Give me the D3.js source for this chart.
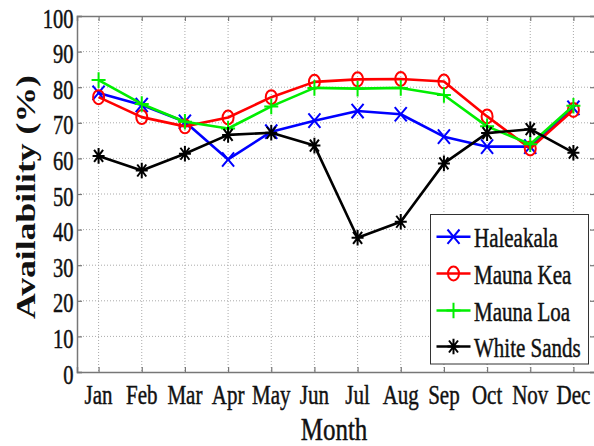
<!DOCTYPE html>
<html><head><meta charset="utf-8">
<script src="https://cdnjs.cloudflare.com/ajax/libs/d3/7.8.5/d3.min.js"></script>
<style>body{margin:0;background:#fff}</style>
</head><body><svg id="c" width="594" height="446"></svg>
<script>
const months = ["Jan","Feb","Mar","Apr","May","Jun","Jul","Aug","Sep","Oct","Nov","Dec"];
const yTicks = [0,10,20,30,40,50,60,70,80,90,100];
const haleakala  = [78.4,75,70.3,59.7,67.5,70.6,73.3,72.4,66.1,63.3,63.3,74.2];
const maunaKea   = [77.2,71.6,69,71.5,77.2,81.5,82.2,82.3,81.6,71.8,62.8,73.6];
const maunaLoa   = [82,75.3,70.3,68.4,74.6,79.8,79.6,79.8,77.8,69,64,74.8];
const whiteSands = [60.7,56.6,61.3,66.6,67.2,63.6,37.7,42.2,58.6,67.1,68.2,61.6];
const seriesNames = ["Haleakala","Mauna Kea","Mauna Loa","White Sands"];
const seriesColors = ["#0000ff","#ff0000","#00ee00","#000000"];
const seriesMarkers = ["x","o","+","*"];
const seriesData = [haleakala, maunaKea, maunaLoa, whiteSands];

const L=77, R=595, T=16, B=372, SY=1.3;
const svg = d3.select("#c");
const x = d3.scaleLinear().domain([0.5,12.5]).range([L,R]);
const y = d3.scaleLinear().domain([0,100]).range([B,T]);
const font = "'Liberation Serif','Times New Roman',serif";

// grid
const g = svg.append("g");
g.selectAll(".gx").data(months.slice()).enter().append("line")
  .attr("x1",(d,i)=>x(i+1)).attr("x2",(d,i)=>x(i+1)).attr("y1",T).attr("y2",B)
  .attr("stroke","#aaa").attr("stroke-width",1).attr("stroke-dasharray","1,2");
g.selectAll(".gy").data(yTicks.slice(1,-1)).enter().append("line")
  .attr("x1",L).attr("x2",R).attr("y1",d=>y(d)).attr("y2",d=>y(d))
  .attr("stroke","#aaa").attr("stroke-width",1).attr("stroke-dasharray","1,2");

// axes via d3
const axL = svg.append("g").attr("transform",`translate(${L},0)`)
  .call(d3.axisLeft(y).tickValues(yTicks).tickSize(-5).tickFormat(""));
const axRt = svg.append("g").attr("transform",`translate(${R},0)`)
  .call(d3.axisRight(y).tickValues(yTicks).tickSize(-5).tickFormat(""));
const axB = svg.append("g").attr("transform",`translate(0,${B})`)
  .call(d3.axisBottom(x).tickValues(d3.range(1,13)).tickSize(-5).tickFormat(""));
const axT = svg.append("g").attr("transform",`translate(0,${T})`)
  .call(d3.axisTop(x).tickValues(d3.range(1,13)).tickSize(-5).tickFormat(""));
[axL,axRt,axB,axT].forEach(a=>{
  a.selectAll("path").attr("stroke","#777").attr("stroke-width",1.5);
  a.selectAll("line").attr("stroke","#777").attr("stroke-width",1.2);
});

// tick labels
svg.selectAll(".yl").data(yTicks).enter().append("text")
  .attr("transform",d=>`translate(73.5,${y(d)+11.5}) scale(1,${SY})`)
  .attr("text-anchor","end").attr("font-family",font).attr("font-size",20.5)
  .attr("fill","#111").attr("stroke","#111").attr("stroke-width",0.35).text(d=>d);
svg.selectAll(".xl").data(months).enter().append("text")
  .attr("transform",(d,i)=>`translate(${x(i+1)},404) scale(1,${SY})`)
  .attr("text-anchor","middle").attr("font-family",font).attr("font-size",21)
  .attr("fill","#111").attr("stroke","#111").attr("stroke-width",0.35).text(d=>d);

// axis titles
svg.append("text").attr("transform",`translate(334,440) scale(1,1.3)`)
  .attr("text-anchor","middle").attr("font-family",font).attr("font-size",25)
  .attr("fill","#111").attr("stroke","#111").attr("stroke-width",0.35).text("Month");
svg.append("text").attr("transform",`translate(35,197) rotate(-90) scale(1.32,1)`)
  .attr("text-anchor","middle").attr("font-family",font).attr("font-size",27)
  .attr("font-weight","bold").attr("fill","#111").text("Availability (%)");

function marker(sel, type, color){
  const s=6;
  if(type==="o"){
    sel.append("ellipse").attr("rx",5.5).attr("ry",7).attr("fill","none")
      .attr("stroke",color).attr("stroke-width",2);
  } else if(type==="x"){
    sel.append("path").attr("d",`M${-s},${-s*1.2}L${s},${s*1.2}M${-s},${s*1.2}L${s},${-s*1.2}`)
      .attr("stroke",color).attr("stroke-width",2);
  } else if(type==="+"){
    sel.append("path").attr("d",`M${-s-1},0L${s+1},0M0,${-s*1.3}L0,${s*1.3}`)
      .attr("stroke",color).attr("stroke-width",2);
  } else {
    sel.append("path").attr("d",`M${-s},0L${s},0M0,${-s*1.3}L0,${s*1.3}M${-s*0.75},${-s}L${s*0.75},${s}M${-s*0.75},${s}L${s*0.75},${-s}`)
      .attr("stroke",color).attr("stroke-width",2);
  }
}

const line = d3.line().x((d,i)=>x(i+1)).y(d=>y(d));
seriesData.forEach((data,k)=>{
  const c=seriesColors[k];
  svg.append("path").datum(data).attr("d",line).attr("fill","none")
    .attr("stroke",c).attr("stroke-width",2.6).attr("stroke-linejoin","round");
  svg.selectAll(".m"+k).data(data).enter().append("g")
    .attr("transform",(d,i)=>`translate(${x(i+1)},${y(d)})`)
    .each(function(){ marker(d3.select(this), seriesMarkers[k], c); });
});

// legend
const lg = svg.append("g");
lg.append("rect").attr("x",430.5).attr("y",214.5).attr("width",158).attr("height",149.5)
  .attr("fill","#fff").attr("stroke","#333").attr("stroke-width",1);
const legY = [236.7,273.5,310.5,346.5];
seriesNames.forEach((n,k)=>{
  const yy=legY[k];
  lg.append("line").attr("x1",436.5).attr("x2",470.5).attr("y1",yy).attr("y2",yy)
    .attr("stroke",seriesColors[k]).attr("stroke-width",2.6);
  const mg = lg.append("g").attr("transform",`translate(453.5,${yy})`);
  marker(mg, seriesMarkers[k], seriesColors[k]);
  lg.append("text").attr("transform",`translate(474,${yy+10}) scale(1,${SY})`)
    .attr("font-family",font).attr("font-size",21).attr("fill","#111")
    .attr("stroke","#111").attr("stroke-width",0.35).text(n);
});
</script></body></html>
